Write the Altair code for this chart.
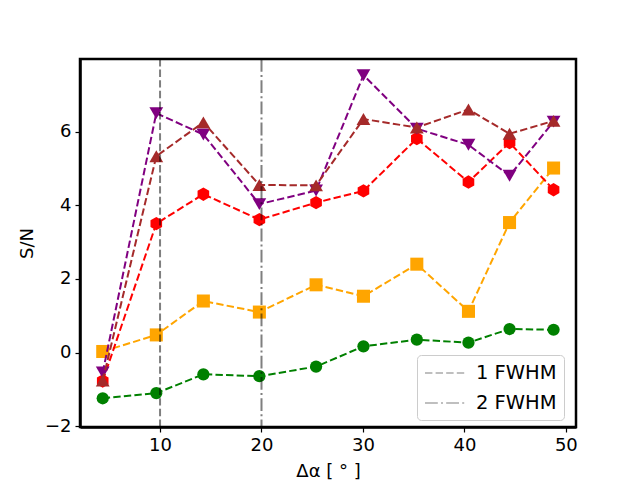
import altair as alt
import pandas as pd

x_vals = [4.35, 9.63, 14.27, 19.79, 25.38, 30.05, 35.31, 40.4, 44.45, 48.79]
green = [-1.24, -1.1, -0.59, -0.64, -0.38, 0.17, 0.35, 0.27, 0.64, 0.62]
orange = [0.03, 0.48, 1.4, 1.1, 1.84, 1.53, 2.4, 1.12, 3.53, 5.01]
red = [-0.77, 3.5, 4.3, 3.61, 4.07, 4.39, 5.81, 4.63, 5.7, 4.42]
brown = [-0.76, 5.33, 6.25, 4.55, 4.54, 6.34, 6.11, 6.6, 5.94, 6.29]
purple = [-0.54, 6.5, 5.92, 4.03, 4.4, 7.53, 6.08, 5.64, 4.8, 6.27]

series_names = ["green", "orange", "red", "purple", "brown"]
series_vals = [green, orange, red, purple, brown]
hexagon = "M0,-1L0.866,-0.5L0.866,0.5L0,1L-0.866,0.5L-0.866,-0.5Z"
shapes = {"green": "circle", "orange": "square", "red": hexagon,
          "purple": "triangle-down", "brown": "triangle-up"}
sizes = {"green": 150, "orange": 170, "red": 180, "purple": 190, "brown": 190}

vline_x = [10, 20]
vline_labels = ["1 FWHM", "2 FWHM"]

rows = []
for name, vals in zip(series_names, series_vals):
    for xv, yv in zip(x_vals, vals):
        rows.append({"series": name, "x": xv, "y": yv})
df = pd.DataFrame(rows)
vdf = pd.DataFrame({"x": vline_x, "label": vline_labels})

xscale = alt.Scale(domain=[2.11, 51.0], nice=False, zero=False)
yscale = alt.Scale(domain=[-2.02, 7.97], nice=False, zero=False)

xaxis = alt.Axis(values=[10, 20, 30, 40, 50], title="Δα [ ° ]", grid=False)
yaxis = alt.Axis(values=[-2, 0, 2, 4, 6], title="S/N", grid=False)

layers = []
for name in series_names:
    sub = alt.Chart(df).transform_filter(alt.datum.series == name)
    line = sub.mark_line(color=name, strokeWidth=2, strokeDash=[7.4, 3.2]).encode(
        x=alt.X("x:Q", scale=xscale, axis=xaxis),
        y=alt.Y("y:Q", scale=yscale, axis=yaxis),
    )
    pts = sub.mark_point(filled=True, color=name, opacity=1,
                         shape=shapes[name], size=sizes[name]).encode(
        x=alt.X("x:Q", scale=xscale),
        y=alt.Y("y:Q", scale=yscale),
    )
    layers += [line, pts]

rules = alt.Chart(vdf).mark_rule(color="black", opacity=0.5, strokeWidth=2).encode(
    x=alt.X("x:Q", scale=xscale),
    strokeDash=alt.StrokeDash(
        "label:N",
        scale=alt.Scale(domain=vline_labels, range=[[7.4, 3.2], [12.8, 3.2, 2, 3.2]]),
        legend=alt.Legend(
            title=None, orient="none", legendX=337, legendY=296,
            symbolType="M-2,0H2", symbolSize=400, symbolStrokeWidth=2,
            symbolOffset=10,
            symbolStrokeColor="#808080", labelFontSize=19.5, labelFont="DejaVu Sans",
            labelColor="black", labelOffset=20, rowPadding=9, padding=7,
            strokeColor="#cccccc", fillColor="white", cornerRadius=4,
        ),
    ),
)
layers.append(rules)

chart = alt.layer(*layers).properties(
    width=496, height=368,
    autosize=alt.AutoSizeParams(type="none"),
    padding={"left": 72, "top": 51, "right": 56, "bottom": 53},
).configure_view(
    stroke="black", strokeWidth=2.5
).configure_axis(
    labelFont="DejaVu Sans", titleFont="DejaVu Sans",
    labelFontSize=18, titleFontSize=18, titleFontWeight="normal",
    labelColor="black", titleColor="black",
    domainColor="black", domainWidth=2.5,
    tickColor="black", tickSize=5, tickWidth=1.2, labelPadding=4,
).configure_axisX(titlePadding=8).configure_axisY(titlePadding=8)

chart.save("out.html", embed_options={"renderer": "svg", "actions": False})
